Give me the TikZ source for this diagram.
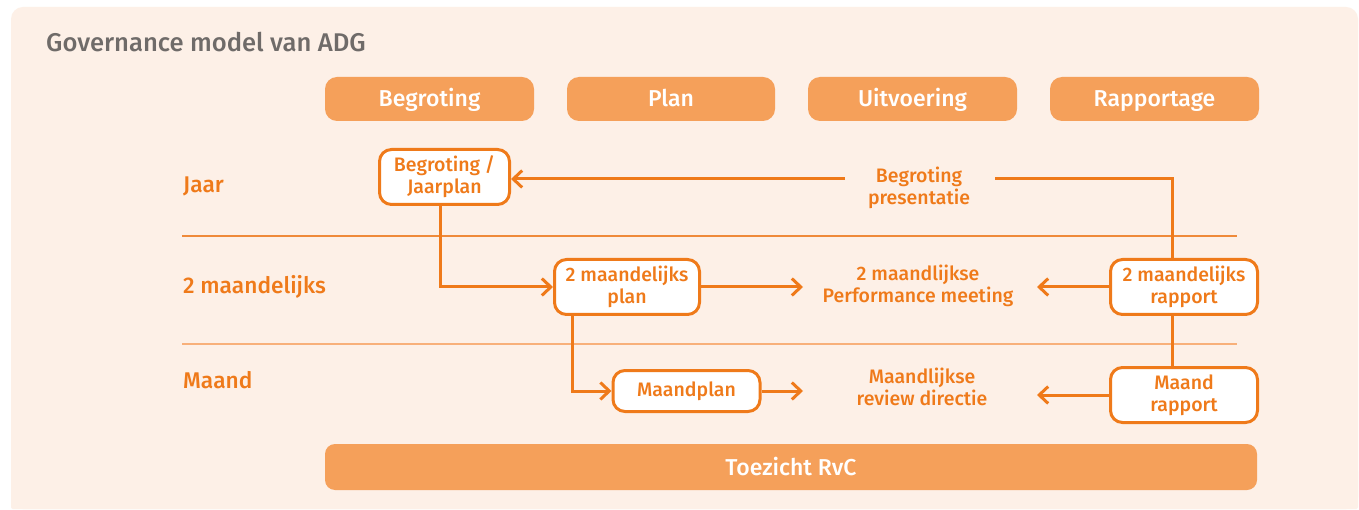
\documentclass[tikz,border=0pt]{standalone}
\usepackage{fontspec}
\setmainfont{Fira Sans}[UprightFont=* Medium, BoldFont=* SemiBold]
\usetikzlibrary{arrows.meta}
\definecolor{bgpanel}{HTML}{FDF0E7}
\definecolor{hdr}{HTML}{F5A05A}
\definecolor{orng}{HTML}{EF7A1A}
\definecolor{sepA}{HTML}{EF8A3A}
\definecolor{sepB}{HTML}{F8B07A}
\definecolor{ttl}{HTML}{6F6B69}
\newcommand{\ttlfont}{\fontsize{25.6}{30}\selectfont}
\newcommand{\hdrfont}{\fontsize{23}{26}\selectfont}
\newcommand{\rowfont}{\fontsize{22.7}{26}\selectfont}
\newcommand{\boxfont}{\fontsize{19.5}{22}\selectfont}
\tikzset{
  hdrbox/.style={fill=hdr, rounded corners=12pt, text=white, font=\hdrfont, inner sep=0pt, minimum height=44pt, text height=16pt, text depth=0pt},
  stepbox/.style={draw=orng, line width=3pt, fill=white, rounded corners=12pt, align=center, text=orng, font=\boxfont, inner sep=0pt, minimum width=147pt, minimum height=55pt},
  rowlbl/.style={anchor=base west, text=orng, font=\rowfont, inner sep=0pt},
  meet/.style={align=center, text=orng, font=\boxfont, inner sep=0pt},
  ln/.style={draw=orng, line width=3pt},
  arr/.style={draw=orng, line width=3pt, -{Straight Barb[length=9pt,width=17pt]}},
}
\begin{document}
\begin{tikzpicture}[x=1pt,y=-1pt]
\useasboundingbox (0,0) rectangle (1359,510);
\fill[white] (0,0) rectangle (1359,510);
\fill[bgpanel, rounded corners=12pt] (11,7) rectangle (1358,509);
\fill[bgpanel, rounded corners=2pt] (11,470) rectangle (1358,509);
% title
\node[anchor=base west, text=ttl, font=\ttlfont, inner sep=0pt] (title) at (46,52) {Governance model van ADG};
% headers
\node[hdrbox, minimum width=209pt] (h1) at (429.5,99) {Begroting};
\node[hdrbox, minimum width=208pt] (h2) at (671,99) {Plan};
\node[hdrbox, minimum width=209pt] (h3) at (912.5,99) {Uitvoering};
\node[hdrbox, minimum width=209pt] (h4) at (1154.5,99) {Rapportage};
\node[hdrbox, minimum width=932pt, minimum height=46pt, rounded corners=10pt] (rvc) at (791,467) {Toezicht RvC};
% row labels
\node[rowlbl] (jaar) at (183,193) {Jaar};
\node[rowlbl] (twee) at (183,294) {2 maandelijks};
\node[rowlbl] (maand) at (183,388) {Maand};
% separators
\draw[sepA, line width=1.3pt] (182,236) -- (1237,236);
\draw[sepB, line width=1.3pt] (182,344) -- (1237,344);
% boxes
\node[stepbox, minimum width=130pt] (bj) at (444.5,177) {Begroting /\\Jaarplan};
\node[stepbox, minimum width=145pt] (p2) at (627,287) {2 maandelijks\\plan};
\node[stepbox, minimum width=147pt, minimum height=41pt] (mp) at (686.5,391) {Maandplan};
\node[stepbox] (r2) at (1184,287) {2 maandelijks\\rapport};
\node[stepbox] (mr) at (1184,395) {Maand\\rapport};
% meetings
\node[meet] (pres) at (919,188) {Begroting\\presentatie};
\node[meet] (perf) at (918,286) {2 maandlijkse\\Performance meeting};
\node[meet] (rev) at (922,387) {Maandlijkse\\review directie};
% connector ends
\coordinate (pr) at (995,179);
\coordinate (pl) at (845,179);
\coordinate (tl) at (803,0);
\coordinate (tr) at (1037,0);
% connectors
\draw[ln] ([xshift=-12pt]r2.north) |- (pr);
\draw[arr] (pl) -- (bj.east |- pl);
\draw[arr] ([xshift=-4pt]bj.south) |- (p2.west);
\draw[arr] ([xshift=-55pt]p2.south) |- (mp.west);
\draw[arr] (p2.east) -- (p2.east -| tl);
\draw[arr] (mp.east) -- (mp.east -| tl);
\draw[arr] (r2.west) -- (r2.west -| tr);
\draw[arr] (mr.west) -- (mr.west -| tr);
\draw[ln] ([xshift=-12pt]r2.south) -- ([xshift=-12pt]mr.north);
\end{tikzpicture}
\end{document}
